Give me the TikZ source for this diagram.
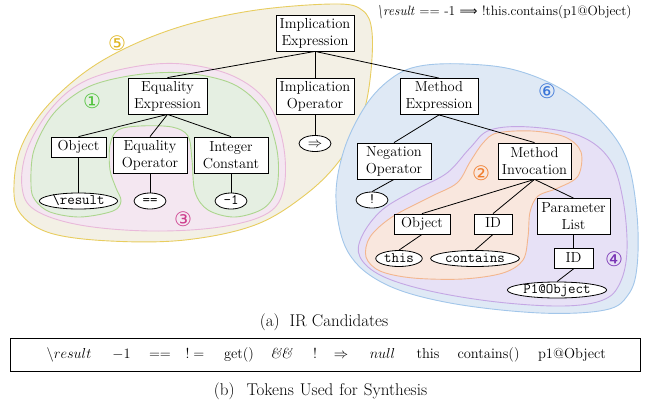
\documentclass[tikz,border=0pt]{standalone}
\usepackage{fontspec}
\usetikzlibrary{shapes.geometric}
\newfontfamily\circfont{DejaVu Sans}
\newcommand\nodefont{\fontsize{14.5}{17}\selectfont}
\newcommand\leaffont{\fontsize{14.5}{17}\selectfont\ttfamily}
\newcommand\capfont{\fontsize{17}{19}\selectfont}
\definecolor{yfill}{RGB}{243,240,229}
\definecolor{ystroke}{RGB}{232,205,95}
\definecolor{pfill}{RGB}{244,231,241}
\definecolor{pstroke}{RGB}{233,185,218}
\definecolor{gfill}{RGB}{229,239,226}
\definecolor{gstroke}{RGB}{172,214,142}
\definecolor{bfill}{RGB}{223,233,245}
\definecolor{bstroke}{RGB}{162,198,234}
\definecolor{vfill}{RGB}{231,225,246}
\definecolor{vstroke}{RGB}{196,167,228}
\definecolor{ofill}{RGB}{249,231,222}
\definecolor{ostroke}{RGB}{243,182,142}
\definecolor{nyellow}{RGB}{222,180,30}
\definecolor{ngreen}{RGB}{80,195,60}
\definecolor{nmagenta}{RGB}{205,60,140}
\definecolor{nblue}{RGB}{55,115,215}
\definecolor{norange}{RGB}{240,125,45}
\definecolor{npurple}{RGB}{120,50,180}
\begin{document}
\begin{tikzpicture}[x=1pt,y=-1pt,
  box/.style={draw, fill=white, line width=0.8pt, inner xsep=2pt, align=center, font=\nodefont},
  boxone/.style={box, inner ysep=3.25pt, text height=10.5pt, text depth=3pt, minimum height=20pt},
  boxtwo/.style={box, inner ysep=1pt, minimum height=36pt},
  leaf/.style={ellipse, draw, fill=white, line width=0.8pt, inner xsep=1.5pt, inner ysep=0pt,
    minimum width=32pt, minimum height=16pt, font=\leaffont, text height=8pt, text depth=1pt},
  edge/.style={line width=0.8pt},
  blob/.style={line width=0.9pt},
  num/.style={font=\circfont\fontsize{20}{20}\selectfont, inner sep=0pt},
  tok/.style={anchor=base, font=\nodefont, inner sep=0pt}
]
\useasboundingbox (0,0) rectangle (652,404);

% region 5 (yellow)
\filldraw[blob, fill=yfill, draw=ystroke] plot[smooth cycle, tension=0.6] coordinates {
 (333,4) (362,10) (372,32) (370,80) (361,120) (340,160) (305,195) (255,225) (185,240)
 (110,241) (50,233) (20,213) (14,185) (22,145) (50,103) (100,62) (170,30) (250,11)};
% region 3 (pink)
\filldraw[blob, fill=pfill, draw=pstroke] plot[smooth cycle, tension=0.6] coordinates {
 (22,187) (27,150) (50,110) (83,82) (133,67) (183,64) (233,76) (267,102) (283,143)
 (284,187) (268,213) (220,227) (150,231) (80,225) (35,210)};
% region 1 (green)
\filldraw[blob, fill=gfill, draw=gstroke] plot[smooth cycle, tension=0.55] coordinates {
 (31,185) (34,150) (54,113) (88,87) (135,75) (185,73) (233,84) (263,110) (277,150)
 (277,187) (264,208) (235,217) (208,210) (195,192) (192,160) (188,136) (172,127)
 (140,126) (118,130) (110,145) (110,170) (116,188) (121,201) (113,211) (80,217)
 (50,212) (35,200)};
% region 6 (blue)
\filldraw[blob, fill=bfill, draw=bstroke] plot[smooth cycle, tension=0.6] coordinates {
 (420,66) (465,64) (515,70) (563,90) (603,123) (627,160) (637,215) (637,267) (628,295)
 (605,310) (540,313) (450,303) (385,284) (348,252) (336,200) (344,150) (366,105) (392,78)};
% region 4 (purple)
\filldraw[blob, fill=vfill, draw=vstroke] plot[smooth cycle, tension=0.6] coordinates {
 (490,130) (530,127) (580,136) (610,160) (623,200) (627,250) (620,283) (603,300)
 (563,306) (497,302) (430,291) (382,276) (360,257) (362,236) (382,210) (415,190)
 (447,173) (470,148)};
% region 2 (orange)
\filldraw[blob, fill=ofill, draw=ostroke] plot[smooth cycle, tension=0.55] coordinates {
 (497,133) (532,131) (565,137) (581,152) (578,176) (558,188) (538,196) (530,212)
 (528,237) (523,260) (503,273) (463,279) (413,278) (380,271) (366,257) (370,237)
 (392,217) (430,197) (457,183) (470,162) (483,143)};

% formula
\node[font=\fontsize{13.5}{16}\selectfont, inner sep=0pt] (fm) at (504,12)
 {\textit{\textbackslash result} == -1 {\circfont\fontsize{12.5}{16}\selectfont ⟹} !this.contains(p1@Object)};

% tree nodes
\node[boxtwo, minimum width=78pt] (ie) at (315,33) {Implication\\Expression};
\node[boxtwo, minimum width=78pt] (io) at (315,96) {Implication\\Operator};
\node[leaf] (imp) at (315,143.5) {$\Rightarrow$};
\node[boxtwo, minimum width=79pt] (ee) at (167.5,96) {Equality\\Expression};
\node[boxone, minimum width=55pt] (ob1) at (78.5,147) {Object};
\node[boxtwo, minimum width=74pt] (eo) at (150,155) {Equality\\Operator};
\node[boxtwo, minimum width=74pt] (ic) at (231,155) {Integer\\Constant};
\node[leaf] (res) at (78.5,201) {\textbackslash result};
\node[leaf] (eq) at (150,201) {==};
\node[leaf] (m1) at (231,201) {-1};
\node[boxtwo, minimum width=78pt] (me) at (439,96.5) {Method\\Expression};
\node[boxtwo, minimum width=74pt] (no) at (394,161) {Negation\\Operator};
\node[leaf] (bang) at (372,200) {!};
\node[boxtwo, minimum width=73pt] (mi) at (534.5,161) {Method\\Invocation};
\node[boxone, minimum width=56pt] (ob2) at (422,224) {Object};
\node[boxone, minimum width=38pt] (id1) at (493,224) {ID};
\node[boxtwo, minimum width=73pt] (pl) at (573.5,216.5) {Parameter\\List};
\node[leaf] (this) at (399,258.5) {this};
\node[leaf] (cont) at (475,258.5) {contains};
\node[boxone, minimum width=39pt] (id2) at (573.5,258.5) {ID};
\node[leaf] (p1) at (557,290) {P1@Object};

% edges
\draw[edge] (ie.south) -- (ee.north);
\draw[edge] (ie.south) -- (io.north);
\draw[edge] (ie.south) -- (me.north);
\draw[edge] (io.south) -- (imp.north);
\draw[edge] (ee.south) -- (ob1.north);
\draw[edge] (ee.south) -- (eo.north);
\draw[edge] (ee.south) -- (ic.north);
\draw[edge] (ob1.south) -- (res.north);
\draw[edge] (eo.south) -- (eq.north);
\draw[edge] (ic.south) -- (m1.north);
\draw[edge] (me.south) -- (no.north);
\draw[edge] (me.south) -- (mi.north);
\draw[edge] (no.south) -- (bang.north);
\draw[edge] (mi.south) -- (ob2.north);
\draw[edge] (mi.south) -- (id1.north);
\draw[edge] (mi.south) -- (pl.north);
\draw[edge] (ob2.south) -- (this.north);
\draw[edge] (id1.south) -- (cont.north);
\draw[edge] (pl.south) -- (id2.north);
\draw[edge] (id2.south) -- (p1.north);

% circled numbers
\node[num, text=nyellow] (n5) at (117,43) {⑤};
\node[num, text=ngreen] (n1) at (92,101) {①};
\node[num, text=nmagenta] (n3) at (183,219) {③};
\node[num, text=nblue] (n6) at (547,91) {⑥};
\node[num, text=norange] (n2) at (481,173) {②};
\node[num, text=npurple] (n4) at (614,259) {④};

% captions and tokens
\node[anchor=base, font=\capfont, inner sep=0pt] (capa) at (324,326) {(a)\hskip 10pt IR Candidates};
\node[draw, line width=0.9pt, minimum width=630pt, minimum height=33pt, inner sep=0pt] (tokbox) at (325,354.5) {};
\node[tok] (t1) at (69,358.5) {$\backslash result$};
\node[tok] (t2) at (121.5,358.5) {$-1$};
\node[tok] (t3) at (160,358.5) {$==$};
\node[tok] (t4) at (195,358.5) {$!=$};
\node[tok] (t5) at (239,358.5) {get()};
\node[tok] (t6) at (281.5,358.5) {\textit{\&\&}};
\node[tok] (t7) at (315,358.5) {!};
\node[tok] (t8) at (341,358.5) {$\Rightarrow$};
\node[tok] (t9) at (382.5,358.5) {$null$};
\node[tok] (t10) at (428,358.5) {this};
\node[tok] (t11) at (488.5,358.5) {contains()};
\node[tok] (t12) at (572,358.5) {p1@Object};
\node[anchor=base, font=\capfont, inner sep=0pt] (capb) at (320.5,395.5) {\addfontfeatures{LetterSpace=7}(b)\hskip 12pt Tokens\hskip 6pt Used\hskip 6pt for\hskip 6pt Synthesis};
\end{tikzpicture}
\end{document}
